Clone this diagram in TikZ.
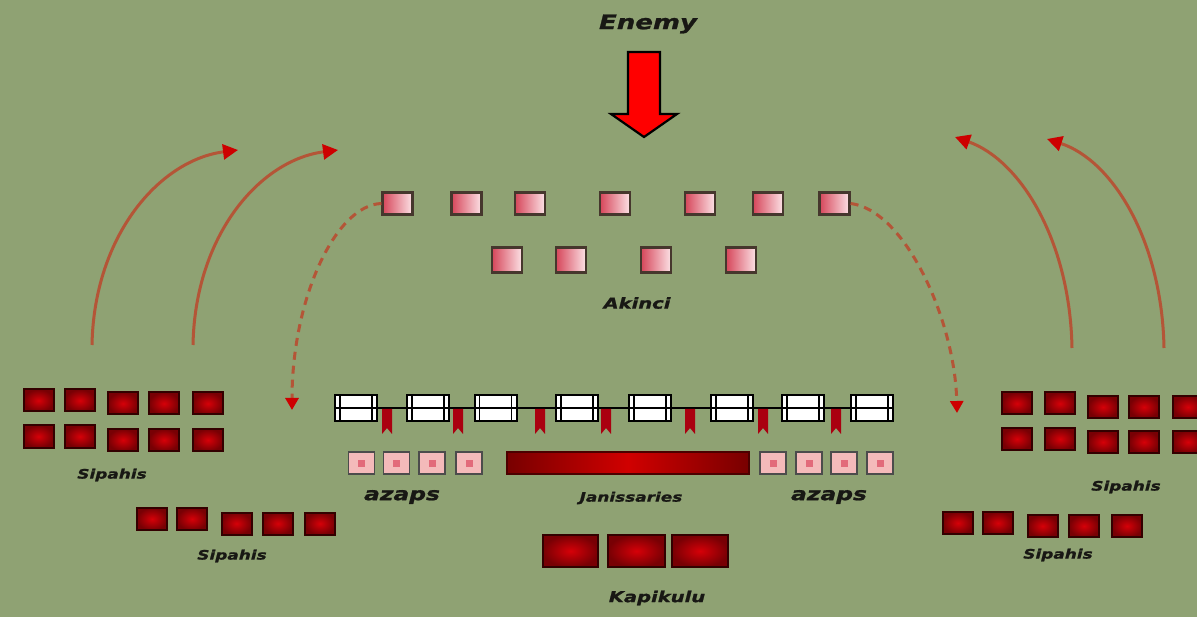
\documentclass[tikz,border=0pt]{standalone}
\usepackage{fontspec}
\usetikzlibrary{arrows.meta}
\newfontfamily\lblfont{DejaVu Sans}[FakeStretch=1.3, BoldItalicFeatures={FakeBold=1.2}]
\definecolor{bg}{RGB}{143,162,115}
\definecolor{txt}{RGB}{24,24,20}
\definecolor{akL}{RGB}{214,70,90}
\definecolor{akR}{RGB}{252,226,230}
\definecolor{akborder}{RGB}{70,55,45}
\definecolor{sipIn}{RGB}{214,0,8}
\definecolor{sipOut}{RGB}{120,0,4}
\definecolor{arrline}{RGB}{180,85,55}
\definecolor{tipred}{RGB}{205,0,0}
\definecolor{azfill}{RGB}{244,186,186}
\definecolor{azcore}{RGB}{226,106,122}
\definecolor{flagred}{RGB}{170,0,16}
\definecolor{jdark}{RGB}{120,0,0}
\definecolor{jmid}{RGB}{208,0,0}
\tikzset{
  akbox/.style={draw=akborder, line width=2.2pt, minimum width=30pt, minimum height=22pt, inner sep=0pt, left color=akL, right color=akR},
  sipbox/.style={draw=black!80!red, line width=2pt, minimum width=30pt, minimum height=22pt, inner sep=0pt, inner color=sipIn, outer color=sipOut},
  kapbox/.style={sipbox, minimum height=32pt},
  jbox/.style={draw=black, fill=white, line width=2pt, minimum width=42pt, minimum height=26pt, inner sep=0pt,
    path picture={
      \draw[line width=1.4pt] ([xshift=5pt]path picture bounding box.south west) -- ([xshift=5pt]path picture bounding box.north west);
      \draw[line width=1.4pt] ([xshift=-5pt]path picture bounding box.south east) -- ([xshift=-5pt]path picture bounding box.north east);
    }},
  azbox/.style={draw=black!70, fill=azfill, line width=1.8pt, minimum width=26pt, minimum height=22pt, inner sep=0pt,
    path picture={\fill[azcore] ([xshift=-3.5pt,yshift=-3.5pt]path picture bounding box.center) rectangle ([xshift=3.5pt,yshift=3.5pt]path picture bounding box.center);}},
  jbar/.style={draw=black!70!red, line width=1.8pt, minimum width=242pt, minimum height=22pt, inner sep=0pt, shading=axis, left color=jdark, right color=jdark, middle color=jmid, shading angle=90},
  lbl/.style={text=txt, inner sep=0pt},
  lblS/.style={lbl, font=\lblfont\bfseries\itshape\fontsize{13}{15}\selectfont},
  lblM/.style={lbl, font=\lblfont\bfseries\itshape\fontsize{15}{17}\selectfont},
  lblL/.style={lbl, font=\lblfont\bfseries\itshape\fontsize{18}{20}\selectfont},
  lblXL/.style={lbl, font=\lblfont\bfseries\itshape\fontsize{20}{22}\selectfont},
  solidarr/.style={draw=arrline, line width=3pt, -{Triangle[length=15pt,width=15pt,color=tipred]}},
  dasharr/.style={draw=arrline, line width=3pt, dash pattern=on 8pt off 6pt, -{Triangle[length=12pt,width=13pt,color=tipred]}},
}
\begin{document}
\begin{tikzpicture}[x=1pt,y=-1pt]
\fill[bg] (0,0) rectangle (1197,617);
\useasboundingbox (0,0) rectangle (1197,617);
\clip (0,0) rectangle (1197,617);

% Enemy
\node[lblXL] (enemy) at (648,24) {Enemy};
\draw[fill=red, draw=black, line width=2.2pt, line join=miter]
  (628,52) -- (660,52) -- (660,114) -- (677,114) -- (644,137) -- (611,114) -- (628,114) -- cycle;

% Akinci
\foreach \x [count=\i] in {397.5,466.5,530,615,700,768,834.5}
  \node[akbox] (ak\i) at (\x,203.5) {};
\foreach \x [count=\i] in {507,571,656,741}
  \node[akbox, minimum height=25pt] (akb\i) at (\x,260) {};
\node[lblM] (akinci) at (637,303) {Akinci};

% dashed arrows
\coordinate (dl) at (292,410);
\coordinate (dr) at (957,413);
\draw[dasharr] (ak1.west) .. controls (335,205) and (292,300) .. (dl);
\draw[dasharr] (ak7.east) .. controls (905,210) and (955,320) .. (dr);

% solid curved arrows
\coordinate (l1s) at (92,345);  \coordinate (l1e) at (238,150);
\coordinate (l2s) at (193,345); \coordinate (l2e) at (338,150);
\coordinate (r1s) at (1072,348); \coordinate (r1e) at (955,137);
\coordinate (r2s) at (1164,348); \coordinate (r2e) at (1047,139);
\draw[solidarr] (l1s) .. controls (94,235) and (160,160) .. (l1e);
\draw[solidarr] (l2s) .. controls (195,235) and (260,160) .. (l2e);
\draw[solidarr] (r1s) .. controls (1070,240) and (1020,160) .. (r1e);
\draw[solidarr] (r2s) .. controls (1162,240) and (1112,160) .. (r2e);

% Janissary line
\foreach \x [count=\i] in {356,428,495.5,577,650,732,803,872}
  \node[jbox] (jb\i) at (\x,408.5) {};
\draw[line width=2.4pt] (jb1.west |- 0,408) -- (jb8.east |- 0,408);
\foreach \x in {387,458,540,606,690,763,836}
  \fill[flagred] (\x-5,409) -- (\x+5,409) -- (\x+5,434) -- (\x,428) -- (\x-5,434) -- cycle;

% azaps and janissaries
\foreach \x [count=\i] in {361.5,396.5,432,469}
  \node[azbox] (azl\i) at (\x,463) {};
\foreach \x [count=\i] in {773,809,844,880}
  \node[azbox] (azr\i) at (\x,463) {};
\node[jbar] (jan) at (628,463) {};
\node[lblL] (azapsL) at (402,497) {azaps};
\node[lblL] (azapsR) at (829,497) {azaps};
\node[lblS] (janlbl) at (631,498) {Janissaries};

% Kapikulu
\node[kapbox, minimum width=55pt] (kap1) at (570.5,551) {};
\node[kapbox, minimum width=57pt] (kap2) at (636.5,551) {};
\node[kapbox, minimum width=56pt] (kap3) at (700,551) {};
\node[lblM] (kaplbl) at (657,598) {Kapikulu};

% Left Sipahis
\foreach \x/\y [count=\i] in {38.5/400.5,80/400.5,123/403.5,164/403.5,208/403.5}
  \node[sipbox] (sl\i) at (\x,\y) {};
\foreach \x/\y [count=\i] in {38.5/436.5,80/436.5,123/440,164/440,208/440}
  \node[sipbox] (slb\i) at (\x,\y) {};
\node[lblS] (siplbl1) at (112,475) {Sipahis};
\foreach \x/\y [count=\i] in {152/519,192/519,236.5/523.5,278/523.5,320/523.5}
  \node[sipbox] (slc\i) at (\x,\y) {};
\node[lblS] (siplbl2) at (232,556) {Sipahis};

% Right Sipahis
\foreach \x/\y [count=\i] in {1017/403.5,1060/403.5,1103/407,1144/407,1188/407}
  \node[sipbox] (sr\i) at (\x,\y) {};
\foreach \x/\y [count=\i] in {1017/439,1060/439,1103/442,1144/442,1188/442}
  \node[sipbox] (srb\i) at (\x,\y) {};
\node[lblS] (siplbl3) at (1126,487) {Sipahis};
\foreach \x/\y [count=\i] in {958/523,998/523,1042.5/526,1084/526,1127/526}
  \node[sipbox] (src\i) at (\x,\y) {};
\node[lblS] (siplbl4) at (1058,555) {Sipahis};
\end{tikzpicture}
\end{document}
